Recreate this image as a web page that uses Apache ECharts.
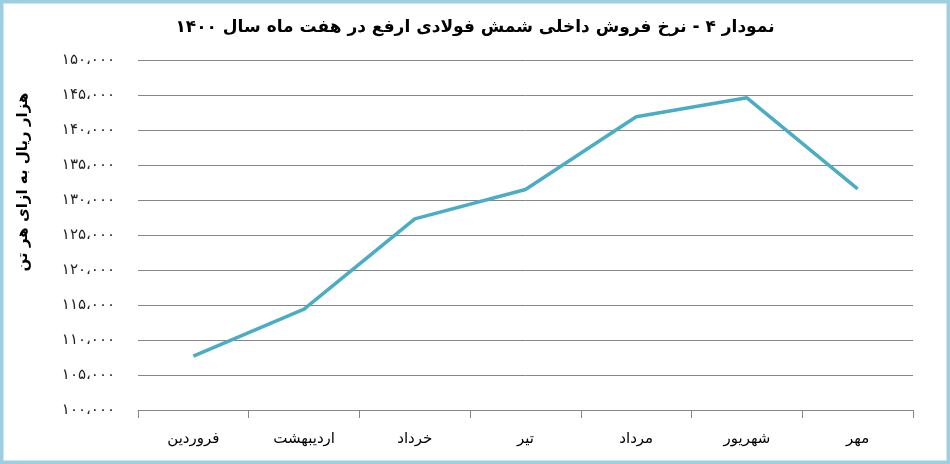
<!DOCTYPE html>
<html>
<head>
<meta charset="utf-8">
<script src="https://cdn.jsdelivr.net/npm/echarts@6/dist/echarts.min.js"></script>
<style>
  html, body { margin: 0; padding: 0; background: #fff; }
  #main { width: 950px; height: 464px; }
</style>
</head>
<body>
<div id="main"></div>
<script>
// ماه‌ها
var months = ['فروردین', 'اردیبهشت', 'خرداد', 'تیر', 'مرداد', 'شهریور', 'مهر'];
// نرخ فروش (هزار ریال به ازای هر تن)
var prices = [107700, 114400, 127300, 131500, 141900, 144600, 131600];
var yMin = 100000, yMax = 150000, yStep = 5000;

var titleText = 'نمودار ۴ - نرخ فروش داخلی شمش فولادی ارفع در هفت ماه سال ۱۴۰۰';
var yName = 'هزار ریال به ازای هر تن';

// عدد به ارقام فارسی با جداکننده
function faNum(v) {
  var s = String(v).replace(/\B(?=(\d{3})+(?!\d))/g, '،');
  return s.replace(/\d/g, function (d) { return '۰۱۲۳۴۵۶۷۸۹'[+d]; });
}

var chart = echarts.init(document.getElementById('main'));

var option = {
  backgroundColor: '#ffffff',
  animation: false,
  title: {
    text: titleText,
    left: 'center',
    top: 14,
    textStyle: { fontFamily: 'DejaVu Sans', fontSize: 17, fontWeight: 'bold', color: '#000' }
  },
  grid: { left: 138, right: 37, top: 60, bottom: 54 },
  xAxis: {
    type: 'category',
    data: months,
    boundaryGap: true,
    axisLine: { lineStyle: { color: '#868686', width: 1 } },
    axisTick: { show: true, length: 8, lineStyle: { color: '#868686' } },
    axisLabel: { margin: 22, fontFamily: 'DejaVu Sans', fontSize: 15, color: '#000' }
  },
  yAxis: {
    type: 'value',
    min: yMin,
    max: yMax,
    interval: yStep,
    axisLine: { show: false },
    axisTick: { show: false },
    splitLine: { lineStyle: { color: '#868686', width: 1 } },
    axisLabel: {
      margin: 23,
      fontFamily: 'DejaVu Sans',
      fontSize: 15,
      color: '#222',
      formatter: function (v) { return faNum(v); }
    }
  },
  series: [{
    type: 'line',
    data: prices,
    showSymbol: false,
    lineStyle: { color: '#4BACC6', width: 3.5 },
    itemStyle: { color: '#4BACC6' }
  }],
  graphic: [
    {
      type: 'rect',
      shape: { x: 1.5, y: 1.5, width: 947, height: 461 },
      style: { fill: 'none', stroke: '#9DD0DF', lineWidth: 4 },
      silent: true
    },
    {
      type: 'text',
      x: 23,
      y: 182,
      rotation: Math.PI / 2,
      style: {
        text: yName,
        fontFamily: 'DejaVu Sans',
        fontSize: 15,
        fontWeight: 'bold',
        fill: '#000',
        textAlign: 'center',
        textVerticalAlign: 'middle'
      }
    }
  ]
};

chart.setOption(option);
</script>
</body>
</html>
